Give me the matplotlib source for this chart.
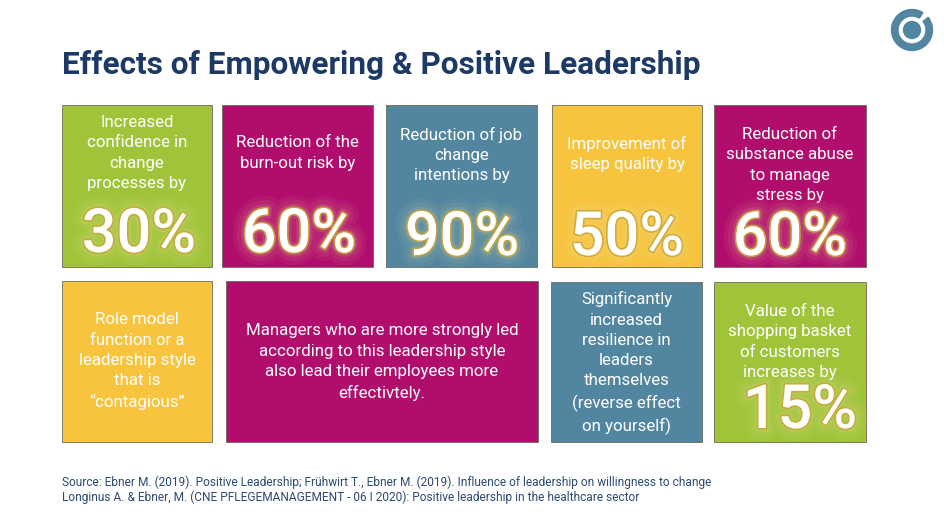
import matplotlib
matplotlib.use('Agg')
import matplotlib.pyplot as plt
import matplotlib.patheffects as pe
from matplotlib.patches import Rectangle, Circle, Wedge

plt.rcParams['font.family'] = ['Roboto', 'DejaVu Sans']

# Content of the tiles
title = 'Effects of Empowering & Positive Leadership'
captions = [
    'Increased\nconfidence in\nchange\nprocesses by',
    'Reduction of the\nburn-out risk by',
    'Reduction of job\nchange\nintentions by',
    'Improvement of\nsleep quality by',
    'Reduction of\nsubstance abuse\nto manage\nstress by',
    'Role model\nfunction or a\nleadership style\nthat is\n\u201ccontagious\u201d',
    'Managers who are more strongly led\naccording to this leadership style\nalso lead their employees more\neffectivtely.',
    'Significantly\nincreased\nresilience in\nleaders\nthemselves\n(reverse effect\non yourself)',
    'Value of the\nshopping basket\nof customers\nincreases by',
]
percents = ['30%', '60%', '90%', '50%', '60%', None, None, None, '15%']
source_lines = [
    'Source: Ebner M. (2019). Positive Leadership; Fr\u00fchwirt T., Ebner M. (2019). Influence of leadership on willingness to change',
    'Longinus A. & Ebner, M. (CNE PFLEGEMANAGEMENT - 06 I 2020): Positive leadership in the healthcare sector',
]

# Layout (pixels): x0, y0, x1, y1, caption centre y, percent centre (x, y)
GREEN, MAGENTA, BLUE, YELLOW = '#9fc43a', '#b10d6d', '#5185a0', '#f8c33d'
tile_colors = [GREEN, MAGENTA, BLUE, YELLOW, MAGENTA, YELLOW, MAGENTA, BLUE, GREEN]
tile_boxes = [
    (62, 105, 212, 267), (222, 105, 373, 267), (386, 105, 537, 267),
    (552, 105, 702, 267), (714, 105, 866, 267),
    (62, 281, 212, 442), (226, 281, 538, 442), (551, 282, 702, 442),
    (714, 282, 866, 442),
]
caption_y = [153, 153, 155, 154, 165, 361, 362, 363, 342]
percent_xy = [(139, 235), (299, 235), (462, 238), (627, 238), (790, 238),
              None, None, None, (800, 411)]

fig = plt.figure(figsize=(9.45, 5.32), dpi=100)
ax = fig.add_axes([0, 0, 1, 1])
ax.set_xlim(0, 945)
ax.set_ylim(532, 0)
ax.axis('off')

ax.text(62, 65, title, fontsize=22.7, fontweight='bold', color='#1d3a66',
        ha='left', va='center')

# logo in the top right corner (y axis is inverted, so negative angles sit up)
ax.add_patch(Wedge((912, 30), 20.5, -38, -58, width=6.5, color='#5185a0'))
ax.add_patch(Circle((912, 30), 8.5, color='#5185a0'))

glow = [
    pe.Stroke(linewidth=18, foreground='#f3e9a0', alpha=0.05),
    pe.Stroke(linewidth=12, foreground='#f3e9a0', alpha=0.07),
    pe.Stroke(linewidth=6, foreground='#f3e9a0', alpha=0.12),
    pe.Stroke(linewidth=2.4, foreground='#c9a73a', alpha=0.85),
    pe.Normal(),
]

for box, col, cap, cy, pct, pxy in zip(tile_boxes, tile_colors, captions,
                                       caption_y, percents, percent_xy):
    x0, y0, x1, y1 = box
    ax.add_patch(Rectangle((x0, y0), x1 - x0, y1 - y0, facecolor=col,
                           edgecolor='#6b6b5a', linewidth=0.6))
    ax.text((x0 + x1) / 2, cy, cap, fontsize=12.2, color='white',
            ha='center', va='center', linespacing=1.44)
    if pct:
        ax.text(pxy[0], pxy[1], pct, fontsize=44, fontweight='medium',
                color='white', ha='center', va='center', path_effects=glow)

for i, line in enumerate(source_lines):
    ax.text(62, 482 + i * 15.5, line, fontsize=8.6, color='#2c4a72',
            ha='left', va='center')

plt.savefig('out.png', dpi=100)
plt.close()
